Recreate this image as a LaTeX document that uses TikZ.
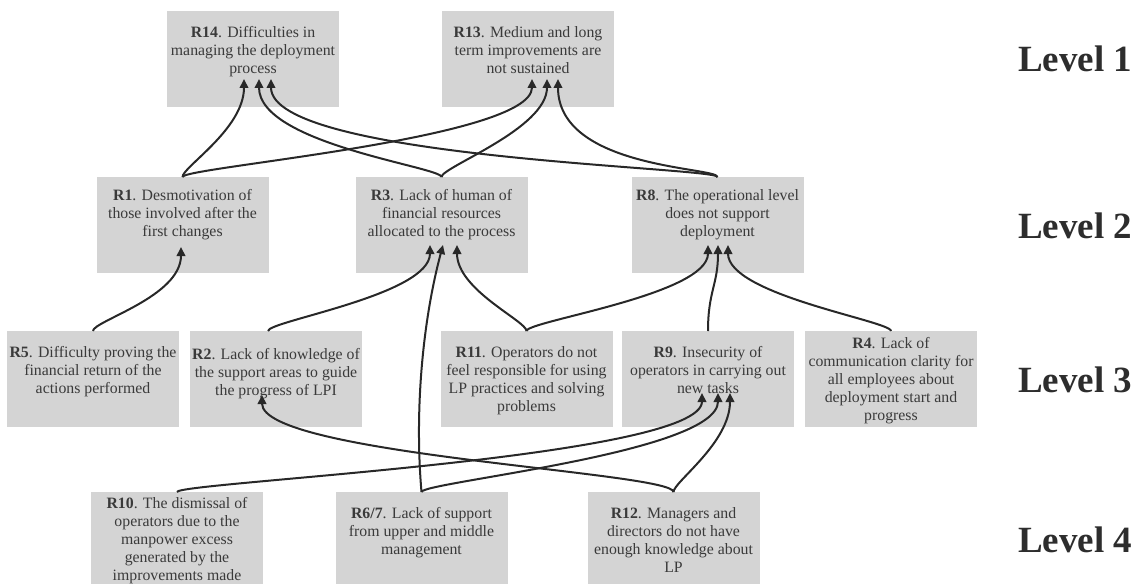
\documentclass[tikz,border=0pt]{standalone}
\usepackage{fontspec}
\setmainfont{Liberation Serif}
\usetikzlibrary{arrows.meta}
\definecolor{boxgray}{RGB}{212,212,212}
\definecolor{txtgray}{RGB}{58,58,58}
\definecolor{linegray}{RGB}{40,40,40}
\definecolor{lvlgray}{RGB}{45,45,45}
\newcommand\rtext[2]{\parbox[c][96pt][t]{172pt}{\vspace*{#1}\centering\strut #2}}
\tikzset{
  rbox/.style={fill=boxgray, inner sep=0pt, outer sep=0pt, text=txtgray,
    font=\fontsize{15.8}{18}\selectfont},
  lvl/.style={anchor=base west, inner sep=0pt, text=lvlgray,
    font=\fontsize{37}{40}\selectfont\bfseries},
  conn/.style={draw=linegray, line width=2pt,
    -{Triangle[length=9pt,width=8.5pt]}},
}
\begin{document}
\begin{tikzpicture}[x=1pt,y=1pt]
\useasboundingbox (0,0) rectangle (1147,-583);
% Level 1
\node[rbox] (R14) at (253,-59) {\rtext{14pt}{\textbf{R14}. Difficulties in\\managing the deployment\\process}};
\node[rbox] (R13) at (528,-59) {\rtext{14pt}{\textbf{R13}. Medium and long\\term improvements are\\not sustained}};
% Level 2
\node[rbox] (R1) at (182.5,-225) {\rtext{11pt}{\textbf{R1}. Desmotivation of\\those involved after the\\first changes}};
\node[rbox] (R3) at (441.5,-225) {\rtext{11pt}{\textbf{R3}. Lack of human of\\financial resources\\allocated to the process}};
\node[rbox] (R8) at (717.5,-225) {\rtext{11pt}{\textbf{R8}. The operational level\\does not support\\deployment}};
% Level 3
\node[rbox] (R5) at (93,-379) {\rtext{14pt}{\textbf{R5}. Difficulty proving the\\financial return of the\\actions performed}};
\node[rbox] (R2) at (276,-379) {\rtext{16pt}{\textbf{R2}. Lack of knowledge of\\the support areas to guide\\the progress of LPI}};
\node[rbox] (R11) at (526.5,-379) {\rtext{14pt}{\textbf{R11}. Operators do not\\feel responsible for using\\LP practices and solving\\problems}};
\node[rbox] (R9) at (708,-379) {\rtext{14pt}{\textbf{R9}. Insecurity of\\operators in carrying out\\new tasks}};
\node[rbox] (R4) at (891,-379) {\rtext{5pt}{\textbf{R4}. Lack of\\communication clarity for\\all employees about\\deployment start and\\progress}};
% Level 4
\node[rbox] (R10) at (177,-540) {\rtext{4pt}{\textbf{R10}. The dismissal of\\operators due to the\\manpower excess\\generated by the\\improvements made}};
\node[rbox] (R67) at (421.5,-540) {\rtext{14pt}{\textbf{R6/7}. Lack of support\\from upper and middle\\management}};
\node[rbox] (R12) at (673.5,-540) {\rtext{14pt}{\textbf{R12}. Managers and\\directors do not have\\enough knowledge about\\LP}};
% Level labels
\node[lvl] (L1) at (1018,-72) {Level 1};
\node[lvl] (L2) at (1018,-238) {Level 2};
\node[lvl] (L3) at (1018,-392) {Level 3};
\node[lvl] (L4) at (1018,-552) {Level 4};
% Connectors into R14
\draw[conn] (R1.north) to[out=90,in=-90,out distance=10pt,in distance=50pt] ([xshift=-9pt,yshift=28pt]R14.south);
\draw[conn] (R3.north) to[out=90,in=-90,out distance=10pt,in distance=65pt] ([xshift=6pt,yshift=28pt]R14.south);
\draw[conn] (R8.north) to[out=90,in=-90,out distance=10pt,in distance=80pt] ([xshift=18pt,yshift=28pt]R14.south);
% Connectors into R13
\draw[conn] (R1.north) to[out=90,in=-90,out distance=10pt,in distance=60pt] ([xshift=4pt,yshift=28pt]R13.south);
\draw[conn] (R3.north) to[out=90,in=-90,out distance=10pt,in distance=50pt] ([xshift=19pt,yshift=28pt]R13.south);
\draw[conn] (R8.north) to[out=90,in=-90,out distance=10pt,in distance=90pt] ([xshift=30pt,yshift=28pt]R13.south);
% Into R1
\draw[conn] (R5.north) to[out=90,in=-90,out distance=10pt,in distance=50pt] ([xshift=-1.5pt,yshift=26pt]R1.south);
% Into R3
\draw[conn] ([xshift=-8pt]R2.north) to[out=90,in=-90,out distance=10pt,in distance=50pt] ([xshift=-11.5pt,yshift=28pt]R3.south);
\draw[conn] (R67.north) to[out=95,in=-105,out distance=80pt,in distance=80pt] ([xshift=1.5pt,yshift=28pt]R3.south);
\draw[conn] (R11.north) to[out=90,in=-90,out distance=10pt,in distance=45pt] ([xshift=15.5pt,yshift=28pt]R3.south);
% Into R8
\draw[conn] (R11.north) to[out=90,in=-90,out distance=10pt,in distance=50pt] ([xshift=-9.5pt,yshift=28pt]R8.south);
\draw[conn] (R9.north) to[out=90,in=-90,out distance=40pt,in distance=40pt] ([xshift=0.5pt,yshift=28pt]R8.south);
\draw[conn] (R4.north) to[out=90,in=-90,out distance=10pt,in distance=50pt] ([xshift=10.5pt,yshift=28pt]R8.south);
% Into R9
\draw[conn] (R10.north) to[out=90,in=-90,out distance=10pt,in distance=65pt] ([xshift=-6pt,yshift=34pt]R9.south);
\draw[conn] (R67.north) to[out=90,in=-90,out distance=10pt,in distance=60pt] ([xshift=10pt,yshift=34pt]R9.south);
\draw[conn] (R12.north) to[out=90,in=-90,out distance=10pt,in distance=50pt] ([xshift=22pt,yshift=34pt]R9.south);
% Into R2
\draw[conn] (R12.north) to[out=90,in=-90,out distance=20pt,in distance=60pt] ([xshift=-14pt,yshift=32pt]R2.south);
\end{tikzpicture}
\end{document}
